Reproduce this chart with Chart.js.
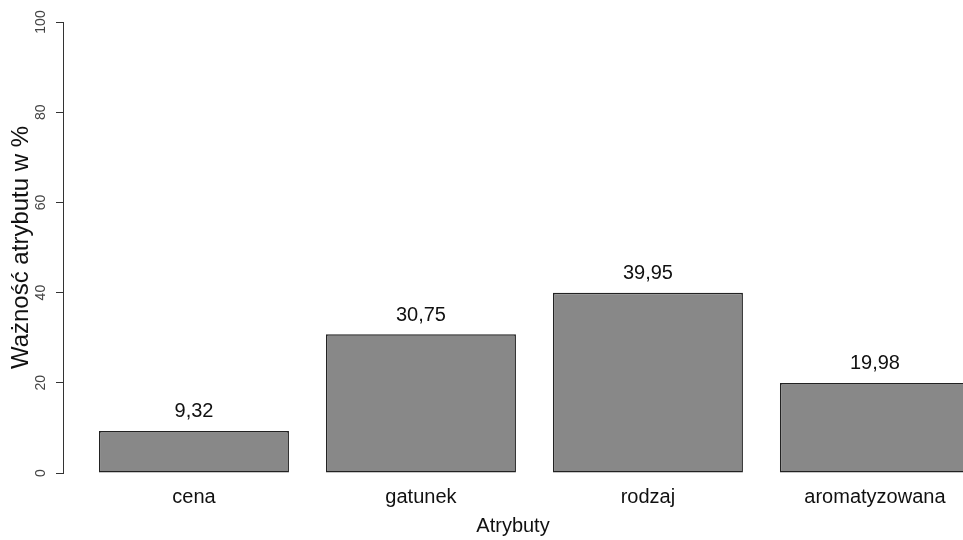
<!DOCTYPE html>
<html>
<head>
<meta charset="utf-8">
<script src="https://cdn.jsdelivr.net/npm/chart.js@4.4.1/dist/chart.umd.min.js"></script>
<style>
  html, body { margin: 0; padding: 0; background: #fff; overflow: hidden; }
  #wrap { width: 963px; height: 540px; position: relative; }
</style>
</head>
<body>
<div id="wrap"><canvas id="chart"></canvas></div>
<script>
// data
var categories = ['cena', 'gatunek', 'rodzaj', 'aromatyzowana'];
var values = [9.32, 30.75, 39.95, 19.98];
var valueLabels = ['9,32', '30,75', '39,95', '19,98'];
var yTicks = [0, 20, 40, 60, 80, 100];

var FONT = "'Liberation Sans', Arial, Helvetica, sans-serif";

// bars sit at x = 0..3 on a linear scale, so the y axis can stand apart from the first bar
var points = values.map(function (v, i) { return { x: i, y: v }; });

// numbers written above each bar
var valueLabelPlugin = {
    id: 'valueLabels',
    afterDatasetsDraw: function (chart) {
        var ctx = chart.ctx;
        var meta = chart.getDatasetMeta(0);
        ctx.save();
        ctx.font = '20px ' + FONT;
        ctx.fillStyle = '#111';
        ctx.textAlign = 'center';
        ctx.textBaseline = 'middle';
        meta.data.forEach(function (bar, i) {
            ctx.fillText(valueLabels[i], bar.x, bar.y - 19);
        });
        ctx.restore();
    }
};

var ctx = document.getElementById('chart').getContext('2d');
var graph = new Chart(ctx, {
    type: 'bar',
    data: {
        datasets: [{
            data: points,
            backgroundColor: '#888888',
            borderColor: '#222222',
            borderWidth: 1.5,
            borderSkipped: false,
            barPercentage: 0.837,
            categoryPercentage: 1
        }]
    },
    options: {
        responsive: true,
        maintainAspectRatio: false,
        animation: false,
        layout: { padding: { top: 22, right: 0, bottom: 0, left: 0 } },
        plugins: {
            legend: { display: false },
            tooltip: { enabled: false }
        },
        scales: {
            x: {
                type: 'linear',
                offset: false,
                min: -0.577,
                max: 3.388,
                grid: { display: false, drawTicks: false, offset: false },
                border: { display: false },
                afterBuildTicks: function (scale) {
                    scale.ticks = categories.map(function (c, i) { return { value: i }; });
                },
                afterFit: function (scale) { scale.height = 67; },
                ticks: {
                    autoSkip: false,
                    maxRotation: 0,
                    padding: 12,
                    color: '#111',
                    font: { family: FONT, size: 20 },
                    callback: function (v) { return categories[v]; }
                },
                title: {
                    display: true,
                    text: 'Atrybuty',
                    color: '#111',
                    font: { family: FONT, size: 20 },
                    padding: { top: 0, bottom: 2 }
                }
            },
            y: {
                min: 0,
                max: 100,
                afterBuildTicks: function (scale) {
                    scale.ticks = yTicks.map(function (t) { return { value: t }; });
                },
                afterFit: function (scale) { scale.width = 63; },
                grid: { drawOnChartArea: false, drawTicks: true, tickLength: 7, color: '#333' },
                border: { display: true, color: '#333', width: 1 },
                ticks: {
                    minRotation: 90,
                    maxRotation: 90,
                    crossAlign: 'center',
                    padding: 3,
                    color: '#444',
                    font: { family: FONT, size: 14 }
                },
                title: {
                    display: true,
                    text: 'Ważność atrybutu w %',
                    color: '#111',
                    font: { family: FONT, size: 24 },
                    padding: { top: 7, bottom: 0 }
                }
            }
        }
    },
    plugins: [valueLabelPlugin]
});
</script>
</body>
</html>
